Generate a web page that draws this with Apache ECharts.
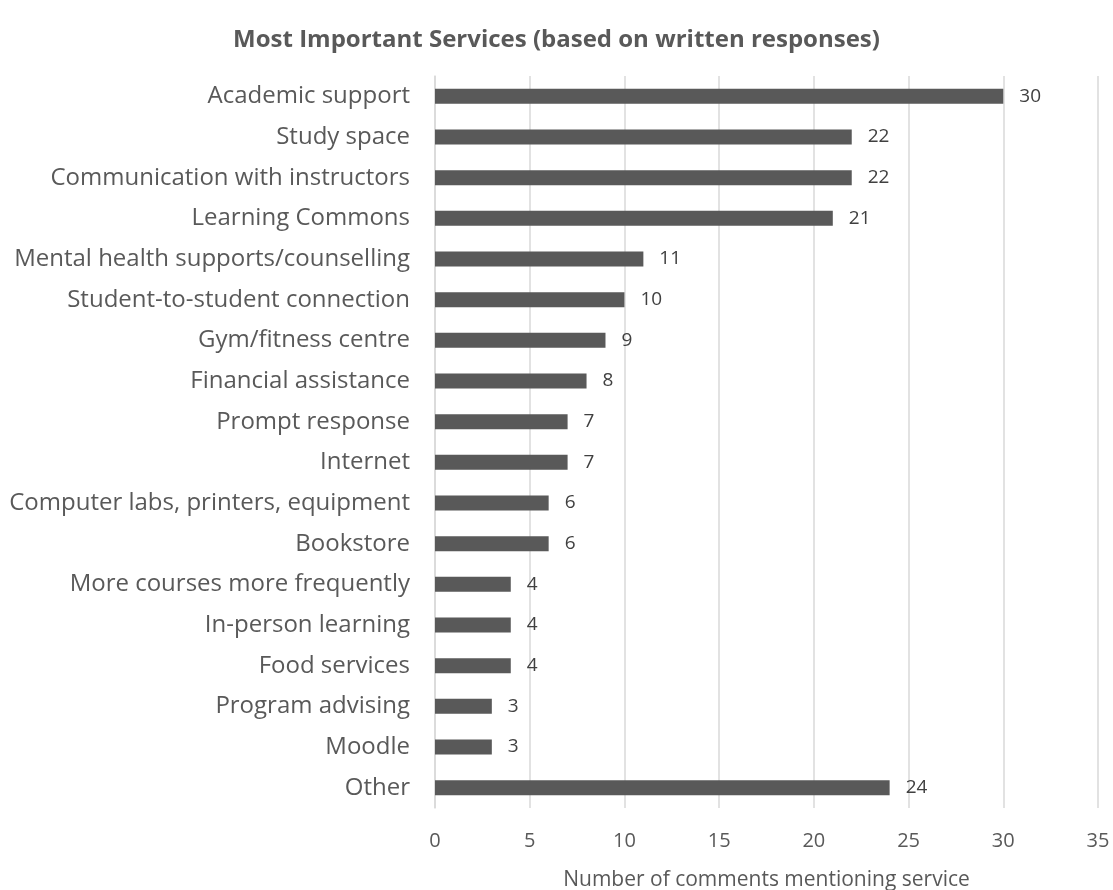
<!DOCTYPE html>
<html>
<head>
<meta charset="utf-8">
<script src="https://cdn.jsdelivr.net/npm/echarts@6/dist/echarts.min.js"></script>
<style>
  html, body { margin: 0; padding: 0; background: #ffffff; }
  #chart { width: 1113px; height: 890px; }
</style>
</head>
<body>
<div id="chart"></div>
<script>
// Services named in the written responses, top to bottom
const categories = [
  'Academic support',
  'Study space',
  'Communication with instructors',
  'Learning Commons',
  'Mental health supports/counselling',
  'Student-to-student connection',
  'Gym/fitness centre',
  'Financial assistance',
  'Prompt response',
  'Internet',
  'Computer labs, printers, equipment',
  'Bookstore',
  'More courses more frequently',
  'In-person learning',
  'Food services',
  'Program advising',
  'Moodle',
  'Other'
];

// Number of comments mentioning each service
const counts = [30, 22, 22, 21, 11, 10, 9, 8, 7, 7, 6, 6, 4, 4, 4, 3, 3, 24];

// Value axis ticks
const xTicks = [0, 5, 10, 15, 20, 25, 30, 35];

const FONT = '"Open Sans", "Noto Sans", sans-serif';

const chart = echarts.init(document.getElementById('chart'), null, { renderer: 'canvas' });

chart.setOption({
  backgroundColor: '#ffffff',
  animation: false,
  title: {
    text: 'Most Important Services (based on written responses)',
    left: 'center',
    top: 23,
    textStyle: {
      fontFamily: FONT,
      fontSize: 24,
      fontWeight: 'bold',
      color: '#595959'
    }
  },
  grid: {
    left: 435,
    right: 15,
    top: 76,
    bottom: 82,
    containLabel: false,
    outerBoundsMode: 'none'
  },
  xAxis: {
    type: 'value',
    min: xTicks[0],
    max: xTicks[xTicks.length - 1],
    interval: 5,
    name: 'Number of comments mentioning service',
    nameLocation: 'middle',
    nameGap: 62,
    nameTextStyle: { fontFamily: FONT, fontSize: 21, color: '#595959' },
    axisLine: { show: false },
    axisTick: { show: false },
    axisLabel: {
      fontFamily: FONT,
      fontSize: 20,
      color: '#595959',
      margin: 23
    },
    splitLine: { show: true, lineStyle: { color: '#d9d9d9', width: 1.5 } }
  },
  yAxis: {
    type: 'category',
    data: categories,
    inverse: true,
    axisLine: { show: true, lineStyle: { color: '#d9d9d9', width: 1.5 } },
    axisTick: { show: false },
    axisLabel: {
      fontFamily: FONT,
      fontSize: 24,
      color: '#595959',
      margin: 25
    }
  },
  series: [{
    type: 'bar',
    data: counts,
    barWidth: 15,
    itemStyle: { color: '#595959' },
    label: {
      show: true,
      position: 'right',
      distance: 16,
      fontFamily: FONT,
      fontSize: 19,
      color: '#404040'
    }
  }]
});
</script>
</body>
</html>
